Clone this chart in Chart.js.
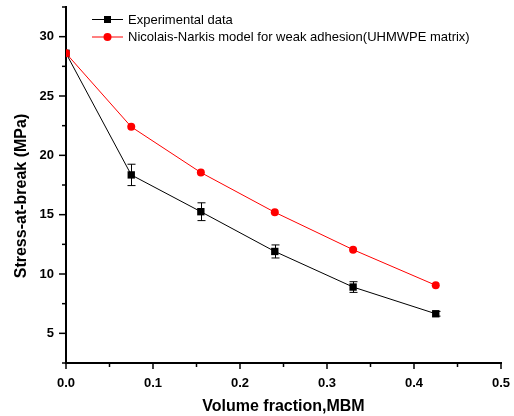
<!DOCTYPE html>
<html>
<head>
<meta charset="utf-8">
<script src="https://cdn.jsdelivr.net/npm/chart.js@4.4.1/dist/chart.umd.min.js"></script>
<style>
  html, body { margin: 0; padding: 0; background: #fff; }
  #wrap { width: 514px; height: 416px; }
</style>
</head>
<body>
<div id="wrap"><canvas id="c" width="514" height="416"></canvas></div>
<script>
// ---- data ----
const volumeFraction = [0, 0.075, 0.155, 0.24, 0.33, 0.425];
const experimental   = [28.6, 18.35, 15.25, 11.9, 8.9, 6.65];
const experimentalErr= [0, 0.9, 0.75, 0.55, 0.45, 0.2];
const nicolaisNarkis = [28.6, 22.4, 18.55, 15.2, 12.05, 9.05];
const xMajorTicks = [0, 0.1, 0.2, 0.3, 0.4, 0.5];
const xMinorTicks = [0.05, 0.15, 0.25, 0.35, 0.45];
const xTickLabels = ['0.0', '0.1', '0.2', '0.3', '0.4', '0.5'];
const yMajorTicks = [5, 10, 15, 20, 25, 30];
const yMinorTicks = [2.5, 7.5, 12.5, 17.5, 22.5, 27.5, 32.5];
const seriesNames = ['Experimental data', 'Nicolais-Narkis model for weak adhesion(UHMWPE matrix)'];
const xTitle = 'Volume fraction,MBM';
const yTitle = 'Stress-at-break (MPa)';

const FONT = '"Liberation Sans", Arial, Helvetica, sans-serif';

const toPts = (ys) => volumeFraction.map((x, i) => ({ x: x, y: ys[i] }));

const zeroPad = (s) => { s.paddingTop = 0; s.paddingBottom = 0; s.paddingLeft = 0; s.paddingRight = 0; };

const extras = {
  id: 'extras',
  beforeDatasetsDraw(chart) {
    const ctx = chart.ctx, xs = chart.scales.x, ys = chart.scales.y;
    ctx.save();
    ctx.strokeStyle = '#000';
    ctx.lineWidth = 1;
    volumeFraction.forEach((v, i) => {
      const e = experimentalErr[i];
      if (!e) return;
      const px = Math.round(xs.getPixelForValue(v)) + 0.5;
      const top = ys.getPixelForValue(experimental[i] + e);
      const bot = ys.getPixelForValue(experimental[i] - e);
      ctx.beginPath();
      ctx.moveTo(px, top); ctx.lineTo(px, bot);
      ctx.moveTo(px - 4, top); ctx.lineTo(px + 4, top);
      ctx.moveTo(px - 4, bot); ctx.lineTo(px + 4, bot);
      ctx.stroke();
    });
    ctx.restore();
  },
  afterDraw(chart) {
    const ctx = chart.ctx, xs = chart.scales.x, ys = chart.scales.y;
    const area = chart.chartArea;
    ctx.save();
    ctx.strokeStyle = '#000';
    ctx.lineWidth = 1.5;
    // y ticks
    const yx = area.left;
    yMajorTicks.forEach(v => {
      const py = ys.getPixelForValue(v);
      ctx.beginPath(); ctx.moveTo(yx, py); ctx.lineTo(yx - 7, py); ctx.stroke();
    });
    yMinorTicks.forEach(v => {
      const py = ys.getPixelForValue(v);
      ctx.beginPath(); ctx.moveTo(yx, py); ctx.lineTo(yx - 4, py); ctx.stroke();
    });
    // x ticks
    const xy = area.bottom;
    xMajorTicks.forEach(v => {
      const px = xs.getPixelForValue(v);
      ctx.beginPath(); ctx.moveTo(px, xy); ctx.lineTo(px, xy + 6); ctx.stroke();
    });
    xMinorTicks.forEach(v => {
      const px = xs.getPixelForValue(v);
      ctx.beginPath(); ctx.moveTo(px, xy); ctx.lineTo(px, xy + 4); ctx.stroke();
    });
    // axis titles
    ctx.fillStyle = '#000';
    ctx.font = 'bold 16px ' + FONT;
    ctx.textAlign = 'center';
    ctx.textBaseline = 'middle';
    ctx.fillText(xTitle, (area.left + area.right) / 2, 407);
    ctx.save();
    ctx.translate(22, 196);
    ctx.rotate(-Math.PI / 2);
    ctx.fillText(yTitle, 0, 0);
    ctx.restore();
    // legend
    const ds = chart.data.datasets;
    const rows = [19.5, 37];
    ctx.font = '13px ' + FONT;
    ctx.textAlign = 'left';
    ds.forEach((d) => {
      const idx = d.legendIndex;
      const y = rows[idx];
      ctx.strokeStyle = d.borderColor;
      ctx.lineWidth = 1;
      ctx.beginPath(); ctx.moveTo(92, y); ctx.lineTo(123, y); ctx.stroke();
      ctx.fillStyle = d.pointBackgroundColor;
      if (d.pointStyle === 'rect') {
        ctx.fillRect(104, y - 3.5, 7, 7);
      } else {
        ctx.beginPath(); ctx.arc(107.5, y, 4, 0, Math.PI * 2); ctx.fill();
      }
      ctx.fillStyle = '#000';
      ctx.fillText(seriesNames[idx], 128, y + 0.5);
    });
    ctx.restore();
  }
};

new Chart(document.getElementById('c'), {
  type: 'scatter',
  data: {
    datasets: [
      {
        label: seriesNames[0],
        legendIndex: 0,
        data: toPts(experimental),
        showLine: true,
        borderColor: '#000',
        backgroundColor: '#000',
        pointBackgroundColor: '#000',
        pointBorderColor: '#000',
        borderWidth: 1,
        pointStyle: 'rect',
        pointRadius: 5.2,
        pointBorderWidth: 0,
        pointHoverRadius: 5.2,
        order: 2,
        clip: 0
      },
      {
        label: seriesNames[1],
        legendIndex: 1,
        data: toPts(nicolaisNarkis),
        showLine: true,
        borderColor: '#ff0000',
        backgroundColor: '#ff0000',
        pointBackgroundColor: '#ff0000',
        pointBorderColor: '#ff0000',
        borderWidth: 1,
        pointStyle: 'circle',
        pointRadius: 4,
        pointBorderWidth: 0,
        pointHoverRadius: 4,
        order: 1,
        clip: 0
      }
    ]
  },
  options: {
    responsive: false,
    animation: false,
    devicePixelRatio: 1,
    layout: { padding: { top: 7, right: 13, left: 0, bottom: 0 } },
    plugins: { legend: { display: false }, tooltip: { enabled: false } },
    scales: {
      x: {
        type: 'linear',
        min: 0, max: 0.5,
        afterBuildTicks(s) { s.ticks = xMajorTicks.map(v => ({ value: v })); },
        afterFit(s) { s.height = 53; zeroPad(s); },
        grid: { display: false, drawTicks: false },
        border: { display: true, color: '#000', width: 2 },
        ticks: {
          padding: 14,
          color: '#000',
          font: { family: FONT, size: 13, weight: 'bold', lineHeight: 1 },
          callback: (v) => xTickLabels[xMajorTicks.findIndex(t => Math.abs(t - v) < 1e-9)]
        }
      },
      y: {
        type: 'linear',
        min: 2.5, max: 32.5,
        afterBuildTicks(s) { s.ticks = yMajorTicks.map(v => ({ value: v })); },
        afterFit(s) { s.width = 66; zeroPad(s); },
        grid: { display: false, drawTicks: false },
        border: { display: true, color: '#000', width: 2 },
        ticks: {
          padding: 12,
          color: '#000',
          font: { family: FONT, size: 13, weight: 'bold', lineHeight: 1 },
          callback: (v) => String(v)
        }
      }
    }
  },
  plugins: [extras]
});
</script>
</body>
</html>
